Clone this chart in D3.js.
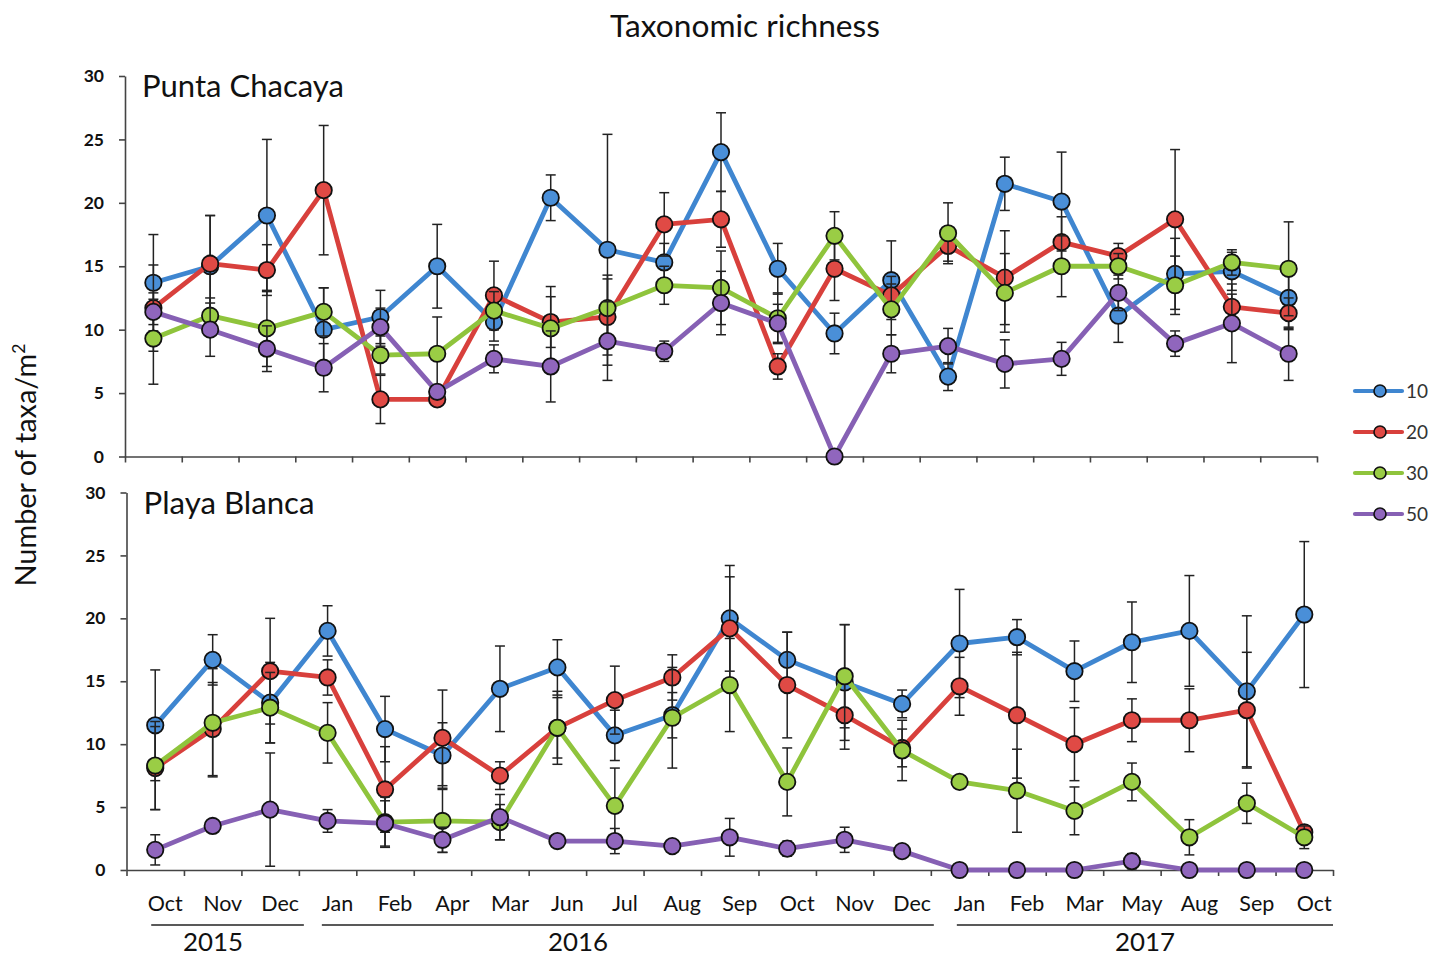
<!DOCTYPE html>
<html>
<head>
<meta charset="utf-8">
<script src="https://cdn.jsdelivr.net/npm/d3@7"></script>
<style>
  html, body { margin: 0; padding: 0; background: #fff; }
  svg { display: block; }
  text { font-family: Lato, "Open Sans", "Noto Sans", sans-serif; }
</style>
</head>
<body>
<svg id="chart" width="1443" height="959"></svg>
<script>
// ---------- DATA ----------
const categories = ["Oct","Nov","Dec","Jan","Feb","Apr","Mar","Jun","Jul","Aug","Sep","Oct","Nov","Dec","Jan","Feb","Mar","May","Aug","Sep","Oct"];
const years = ["2015", "2016", "2017"];
const seriesNames = ["10", "20", "30", "50"];
const yTicks = [0, 5, 10, 15, 20, 25, 30];

// Punta Chacaya
const pc10 = [13.7,15.0,19.0,10.0,11.0,15.0,10.6,20.4,16.3,15.3,24.0,14.8,9.7,13.9,6.3,21.5,20.1,11.1,14.4,14.6,12.5];
const pc10Err = [3.8,4.0,6.0,3.3,2.1,3.3,1.5,1.8,9.1,1.5,3.1,2.0,1.6,3.1,1.1,2.1,3.9,2.1,2.8,1.5,2.5];
const pc20 = [11.7,15.2,14.7,21.0,4.5,4.5,12.7,10.6,11.0,18.3,18.7,7.1,14.8,12.7,16.6,14.1,16.9,15.8,18.7,11.8,11.3];
const pc20Err = [3.4,3.8,2.0,5.1,1.9,0.5,2.7,2.0,3.0,2.5,2.2,1.0,2.5,1.5,1.2,3.7,2.0,1.0,5.5,1.0,1.2];
const pc30 = [9.3,11.1,10.1,11.4,8.0,8.1,11.5,10.1,11.7,13.5,13.3,10.9,17.4,11.6,17.6,12.9,15.0,15.0,13.5,15.3,14.8];
const pc30Err = [3.6,1.4,3.0,1.9,1.5,2.9,1.5,3.3,2.6,1.5,2.9,2.0,1.9,2.0,2.4,3.1,2.4,1.0,2.3,1.0,3.7];
const pc50 = [11.4,10.0,8.5,7.0,10.2,5.1,7.7,7.1,9.1,8.3,12.1,10.5,0.0,8.1,8.7,7.3,7.7,12.9,8.9,10.5,8.1];
const pc50Err = [1.0,2.1,1.8,1.9,1.5,0.4,1.1,2.8,3.1,0.8,2.5,1.5,0.0,1.5,1.4,1.9,1.3,1.4,1.0,3.1,2.1];

// Playa Blanca
const pb10 = [11.5,16.7,13.3,19.0,11.2,9.1,14.4,16.1,10.7,12.3,20.0,16.7,14.9,13.2,18.0,18.5,15.8,18.1,19.0,14.2,20.3];
const pb10Err = [4.4,2.0,3.2,2.0,2.6,2.6,3.4,2.2,2.0,1.8,4.2,2.2,4.6,1.1,4.3,1.4,2.4,3.2,4.4,6.0,5.8];
const pb20 = [8.1,11.2,15.8,15.3,6.4,10.5,7.5,11.3,13.5,15.3,19.2,14.7,12.3,9.7,14.6,12.3,10.0,11.9,11.9,12.7,3.0];
const pb20Err = [3.3,3.7,4.2,1.4,3.4,3.8,1.1,2.4,2.7,1.8,4.1,4.2,2.7,1.5,2.3,5.0,2.9,1.7,2.5,4.6,0.3];
const pb30 = [8.3,11.7,12.9,10.9,3.8,3.9,3.8,11.3,5.1,12.1,14.7,7.0,15.4,9.5,7.0,6.3,4.7,7.0,2.6,5.3,2.6];
const pb30Err = [3.5,4.3,2.8,2.4,2.0,2.5,1.4,2.9,3.0,4.0,3.7,2.7,4.1,2.4,0.3,3.3,1.9,1.5,1.4,1.6,0.9];
const pb50 = [1.6,3.5,4.8,3.9,3.7,2.4,4.2,2.3,2.3,1.9,2.6,1.7,2.4,1.5,0.0,0.0,0.0,0.7,0.0,0.0,0.0];
const pb50Err = [1.2,0.2,4.5,0.9,1.8,1.0,1.8,0.3,1.0,0.2,1.5,0.6,1.0,0.3,0.0,0.0,0.0,0.6,0.0,0.0,0.0];

// ---------- STYLE ----------
const lineColors = ["#3f86d0", "#d8403c", "#8fc43c", "#8660b4"];
const fillColors = ["#4a8fd8", "#e04a45", "#9acd45", "#9066bd"];

const panels = [
  { name: "Punta Chacaya", nameW: 202, x0: 125, x1: 1317, yZero: 456.5, yTop: 76,
    values: [pc10, pc20, pc30, pc50], errs: [pc10Err, pc20Err, pc30Err, pc50Err], labels: false },
  { name: "Playa Blanca", nameW: 171, x0: 126.5, x1: 1333, yZero: 870, yTop: 492.5,
    values: [pb10, pb20, pb30, pb50], errs: [pb10Err, pb20Err, pb30Err, pb50Err], labels: true }
];

// scale a text's font size so that its rendered width matches a target width
function fitWidth(sel, target) {
  const node = sel.node();
  const fs = parseFloat(sel.attr("font-size"));
  const len = node.getComputedTextLength();
  if (len > 0) sel.attr("font-size", (fs * target / len).toFixed(2));
  return +sel.attr("font-size");
}

const svg = d3.select("#chart");

const title = svg.append("text")
  .attr("x", 745).attr("y", 37)
  .attr("text-anchor", "middle")
  .attr("font-size", 28)
  .attr("fill", "#111")
  .text("Taxonomic richness");
fitWidth(title, 270);

const ylab = svg.append("text")
  .attr("transform", "translate(36,465) rotate(-90)")
  .attr("text-anchor", "middle")
  .attr("font-size", 28)
  .attr("fill", "#111");
ylab.append("tspan").text("Number of taxa/m");
ylab.append("tspan").attr("font-size", 17).attr("dy", -11).text("2");
{
  const len = ylab.node().getComputedTextLength();
  const k = 243 / len;
  ylab.attr("font-size", (28 * k).toFixed(2));
  ylab.select("tspan:nth-child(2)").attr("font-size", (17 * k).toFixed(2));
}

panels.forEach(p => {
  const n = categories.length;
  const x = d3.scaleLinear().domain([0, n]).range([p.x0, p.x1]);
  const y = d3.scaleLinear().domain([0, 30]).range([p.yZero, p.yTop]);
  const g = svg.append("g");

  // y axis
  const ya = g.append("g")
    .attr("transform", `translate(${p.x0},0)`)
    .call(d3.axisLeft(y).tickValues(yTicks).tickSize(6).tickSizeOuter(0).tickPadding(15));
  ya.select(".domain").attr("stroke", "#444").attr("stroke-width", 1.6);
  ya.selectAll(".tick line").attr("stroke", "#444").attr("stroke-width", 1.6);
  ya.selectAll(".tick text")
    .attr("font-family", "Lato, sans-serif")
    .attr("font-weight", "bold").attr("font-size", 17.5).attr("fill", "#111");

  // x axis (ticks at category boundaries)
  const xa = g.append("g")
    .attr("transform", `translate(0,${p.yZero})`)
    .call(d3.axisBottom(x).tickValues(d3.range(n + 1)).tickFormat("").tickSize(6).tickSizeOuter(0));
  xa.select(".domain").attr("stroke", "#444").attr("stroke-width", 1.6);
  xa.selectAll(".tick line").attr("stroke", "#444").attr("stroke-width", 1.6);

  // panel name
  const pn = g.append("text")
    .attr("x", p.x0 + 17).attr("y", p.yTop + 21)
    .attr("font-size", 28).attr("fill", "#111")
    .text(p.name);
  fitWidth(pn, p.nameW);

  const cx = i => x(i + 0.5);
  const line = d3.line().x((d, i) => cx(i)).y(d => y(d));

  p.values.forEach((vals, s) => {
    const sg = g.append("g");
    sg.append("path")
      .datum(vals)
      .attr("d", line)
      .attr("fill", "none")
      .attr("stroke", lineColors[s])
      .attr("stroke-width", 4.8)
      .attr("stroke-linejoin", "round");

    const errs = p.errs[s];
    const eb = sg.selectAll(".eb").data(vals.map((v, i) => ({ v, e: errs[i], i })).filter(d => d.e > 0))
      .enter().append("g").attr("stroke", "#222").attr("stroke-width", 1.5);
    eb.append("line")
      .attr("x1", d => cx(d.i)).attr("x2", d => cx(d.i))
      .attr("y1", d => y(d.v + d.e)).attr("y2", d => y(Math.max(0, d.v - d.e)));
    eb.append("line")
      .attr("x1", d => cx(d.i) - 5).attr("x2", d => cx(d.i) + 5)
      .attr("y1", d => y(d.v + d.e)).attr("y2", d => y(d.v + d.e));
    eb.append("line")
      .attr("x1", d => cx(d.i) - 5).attr("x2", d => cx(d.i) + 5)
      .attr("y1", d => y(Math.max(0, d.v - d.e))).attr("y2", d => y(Math.max(0, d.v - d.e)));

    sg.selectAll("circle").data(vals).enter().append("circle")
      .attr("cx", (d, i) => cx(i)).attr("cy", d => y(d))
      .attr("r", 8.2)
      .attr("fill", fillColors[s])
      .attr("stroke", "#111").attr("stroke-width", 1.8);
  });

  if (p.labels) {
    const cats = g.selectAll(".cat").data(categories).enter().append("text")
      .attr("x", (d, i) => cx(i) + 10)
      .attr("y", p.yZero + 41)
      .attr("text-anchor", "middle")
      .attr("font-size", 21).attr("fill", "#111")
      .text(d => d);
    const first = d3.select(cats.nodes()[0]);
    const fsCat = fitWidth(first, 35);
    cats.attr("font-size", fsCat);

    const spanPx = [[cx(0) - 4, x(3) + 5], [x(3) + 23, x(14) + 3], [x(14) + 26, x(21)]];
    spanPx.forEach(([a, b]) => {
      g.append("line")
        .attr("x1", a).attr("x2", b)
        .attr("y1", p.yZero + 55).attr("y2", p.yZero + 55)
        .attr("stroke", "#222").attr("stroke-width", 1.6);
    });
    const yearCenters = [213, 578, 1145];
    let fsYear = 26;
    years.forEach((yr, k) => {
      const t = g.append("text")
        .attr("x", yearCenters[k]).attr("y", p.yZero + 81)
        .attr("text-anchor", "middle")
        .attr("font-size", 26).attr("fill", "#111")
        .text(yr);
      if (k === 0) fsYear = fitWidth(t, 60);
      else t.attr("font-size", fsYear);
    });
  }
});

// legend
const legY = [391, 432, 473, 514];
seriesNames.forEach((nm, s) => {
  const lg = svg.append("g").attr("transform", `translate(0,${legY[s]})`);
  lg.append("line").attr("x1", 1355).attr("x2", 1402).attr("y1", 0).attr("y2", 0)
    .attr("stroke", lineColors[s]).attr("stroke-width", 4.2).attr("stroke-linecap", "round");
  lg.append("circle").attr("cx", 1380).attr("cy", 0).attr("r", 6)
    .attr("fill", fillColors[s]).attr("stroke", "#111").attr("stroke-width", 1.6);
  lg.append("text").attr("x", 1406).attr("y", 7)
    .attr("font-size", 19).attr("fill", "#333").text(nm);
});
</script>
</body>
</html>
